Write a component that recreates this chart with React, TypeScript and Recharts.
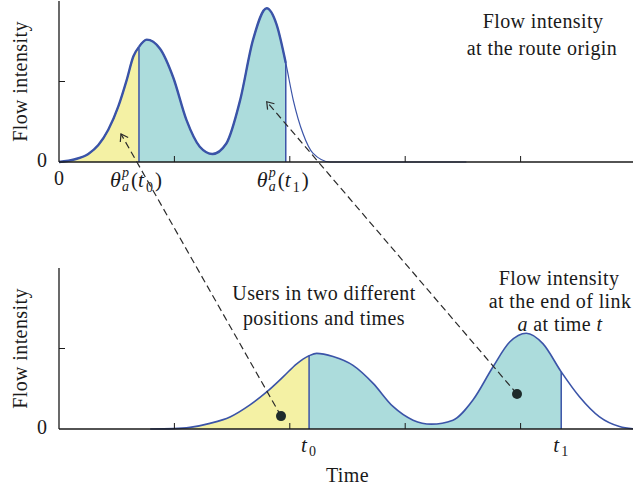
import React from 'react';
import { ComposedChart, Area, Line, XAxis, YAxis, ReferenceLine, ReferenceDot } from 'recharts';

const FONT = '"Liberation Serif", "Times New Roman", serif';
const BLUE = '#3b54a8';
const YELLOW = '#f4f1a4';
const TEAL = '#acdcdc';
const INK = '#1a1a1a';

// top panel: flow intensity at the route origin
const originTime = [0, 0.139, 0.254, 0.341, 0.427, 0.514, 0.587, 0.644, 0.693, 0.76, 0.874, 0.99, 1.105, 1.22, 1.33, 1.45, 1.57, 1.68, 1.8, 1.885, 1.965, 2.03, 2.115, 2.2, 2.35, 3.53];
const originFlow = [0, 0.034, 0.1, 0.21, 0.4, 0.69, 1.02, 1.31, 1.43, 1.52, 1.41, 1.05, 0.52, 0.19, 0.1, 0.23, 0.77, 1.51, 1.91, 1.71, 1.23, 0.77, 0.35, 0.11, 0, 0];
const originT0 = 0.693; // θ(t0)
const originT1 = 1.965; // θ(t1)

// bottom panel: flow intensity at the end of link a
const linkTime = [0.79, 0.99, 1.135, 1.308, 1.482, 1.655, 1.8, 1.944, 2.06, 2.167, 2.233, 2.375, 2.548, 2.72, 2.894, 3.068, 3.227, 3.414, 3.587, 3.76, 3.905, 4.05, 4.193, 4.352, 4.51, 4.684, 4.857, 5.0];
const linkFlow = [0, 0.005, 0.02, 0.07, 0.15, 0.3, 0.46, 0.65, 0.81, 0.91, 0.94, 0.9, 0.79, 0.57, 0.28, 0.11, 0.06, 0.11, 0.36, 0.77, 1.08, 1.19, 1.06, 0.71, 0.4, 0.15, 0.03, 0];
const linkT0 = 2.167;
const linkT1 = 4.352;

const gridTicks = [1, 2, 3, 4];
const flowTicks = [0, 1];

// the two users on the link and where they left the origin (bottom panel units)
const userTime = [1.924, 3.969];
const userFlow = [0.16, 0.435];
const departTime = [0.537, 1.8];
const departFlow = [3.665, 4.066];

const buildRows = (xs: number[], ys: number[], a: number, b: number) =>
  xs.map((x, i) => ({
    x,
    y: ys[i],
    yellow: x <= a ? ys[i] : null,
    teal: x >= a && x <= b ? ys[i] : null,
  }));

const originRows = buildRows(originTime, originFlow, originT0, originT1);
const linkRows = buildRows(linkTime, linkFlow, linkT0, linkT1);
const flowAt = (xs: number[], ys: number[], t: number) => ys[xs.indexOf(t)];

const Theta = ({ x, y, sub }: any) => {
  const l = x - 29;
  return (
    <g fontFamily={FONT} fill={INK}>
      <text x={l} y={y} fontSize={22} fontStyle="italic">θ</text>
      <text x={l + 12} y={y - 10} fontSize={14} fontStyle="italic">p</text>
      <text x={l + 12} y={y + 4} fontSize={14} fontStyle="italic">a</text>
      <text x={l + 21} y={y} fontSize={21}>(</text>
      <text x={l + 28} y={y} fontSize={21} fontStyle="italic">t</text>
      <text x={l + 36} y={y + 5} fontSize={14}>{sub}</text>
      <text x={l + 45} y={y} fontSize={21}>)</text>
    </g>
  );
};

const OriginTimeTick = ({ x, y, payload }: any) => {
  const v = payload.value;
  if (gridTicks.includes(v)) return <line x1={x} y1={y} x2={x} y2={y - 6} stroke={INK} />;
  if (v === 0)
    return <text x={x} y={y + 23} textAnchor="middle" fontFamily={FONT} fontSize={20} fill={INK}>0</text>;
  return <Theta x={x} y={y + 25} sub={v === originT0 ? '0' : '1'} />;
};

const LinkTimeTick = ({ x, y, payload }: any) => {
  const v = payload.value;
  if (gridTicks.includes(v)) return <line x1={x} y1={y} x2={x} y2={y - 6} stroke={INK} />;
  return (
    <g fontFamily={FONT} fill={INK}>
      <text x={x - 8} y={y + 23} fontSize={21} fontStyle="italic">t</text>
      <text x={x} y={y + 27} fontSize={14}>{v === linkT0 ? '0' : '1'}</text>
    </g>
  );
};

const TopTick = ({ x, y, payload }: any) =>
  gridTicks.includes(payload.value) ? <line x1={x} y1={y} x2={x} y2={y + 6} stroke={INK} /> : <g />;

const LeftTick = ({ x, y, payload }: any) =>
  payload.value === 0 ? (
    <text x={x - 12} y={y + 5} textAnchor="end" fontFamily={FONT} fontSize={20} fill={INK}>0</text>
  ) : (
    <line x1={x} y1={y} x2={x + 6} y2={y} stroke={INK} />
  );

const RightTick = ({ x, y, payload }: any) =>
  payload.value === 0 ? <g /> : <line x1={x} y1={y} x2={x - 6} y2={y} stroke={INK} />;

const Arrow = ({ x1, y1, x2, y2 }: any) => {
  const ang = Math.atan2(y1 - y2, x1 - x2);
  const len = 8;
  const spread = 0.6;
  return (
    <g stroke="#2a2a2a" strokeWidth={1.2} fill="none">
      <line x1={x1} y1={y1} x2={x2} y2={y2} strokeDasharray="7 4" />
      <polyline
        points={`${x2 + len * Math.cos(ang - spread)},${y2 + len * Math.sin(ang - spread)} ${x2},${y2} ${x2 + len * Math.cos(ang + spread)},${y2 + len * Math.sin(ang + spread)}`}
      />
    </g>
  );
};

const axisLabel = {
  value: 'Flow intensity',
  angle: -90,
  position: 'insideLeft',
  offset: 20,
  style: { textAnchor: 'middle', fontFamily: FONT, fontSize: 20, fill: INK, letterSpacing: 0.4 },
};

const Frame = ({ showBottom }: { showBottom: 'origin' | 'link' }) => [
  <XAxis
    key="xb"
    xAxisId={0}
    type="number"
    dataKey="x"
    domain={[0, 5]}
    ticks={showBottom === 'origin' ? [0, ...gridTicks, originT0, originT1] : [...gridTicks, linkT0, linkT1]}
    interval={0}
    tickSize={0}
    tickMargin={0}
    tickLine={false}
    axisLine={{ stroke: INK, strokeWidth: 1.3 }}
    tick={showBottom === 'origin' ? OriginTimeTick : LinkTimeTick}
    height={showBottom === 'origin' ? 38 : 63}
    label={
      showBottom === 'link'
        ? { value: 'Time', position: 'insideBottom', offset: 10, style: { fontFamily: FONT, fontSize: 20, fill: INK, letterSpacing: 0.4 } }
        : undefined
    }
  />,
  <XAxis
    key="xt"
    xAxisId="top"
    orientation="top"
    type="number"
    dataKey="x"
    domain={[0, 5]}
    ticks={gridTicks}
    interval={0}
    tickSize={0}
    tickMargin={0}
    tickLine={false}
    axisLine={{ stroke: showBottom === 'origin' ? '#444' : INK, strokeWidth: showBottom === 'origin' ? 2.2 : 1.3 }}
    tick={TopTick}
    height={0}
  />,
  <YAxis
    key="yl"
    yAxisId={0}
    type="number"
    domain={[0, 2]}
    ticks={flowTicks}
    interval={0}
    tickSize={0}
    tickMargin={0}
    tickLine={false}
    axisLine={{ stroke: INK, strokeWidth: 1.3 }}
    tick={LeftTick}
    width={59}
    label={axisLabel}
  />,
  <YAxis
    key="yr"
    yAxisId="right"
    orientation="right"
    type="number"
    domain={[0, 2]}
    ticks={flowTicks}
    interval={0}
    tickSize={0}
    tickMargin={0}
    tickLine={false}
    axisLine={{ stroke: INK, strokeWidth: 1.3 }}
    tick={RightTick}
    width={0}
  />,
];

const OriginChart = () => (
  <ComposedChart width={640} height={200} data={originRows} margin={{ top: 1, right: 4, bottom: 0, left: 0 }}>
    {Frame({ showBottom: 'origin' })}
    <Area dataKey="yellow" type="monotone" fill={YELLOW} fillOpacity={1} stroke={BLUE} strokeWidth={2.4} isAnimationActive={false} />
    <Area dataKey="teal" type="monotone" fill={TEAL} fillOpacity={1} stroke={BLUE} strokeWidth={2.4} isAnimationActive={false} />
    <Line dataKey="y" type="monotone" stroke={BLUE} strokeWidth={1.2} dot={false} isAnimationActive={false} />
    <Line dataKey="y" xAxisId="top" yAxisId="right" stroke="none" dot={false} activeDot={false} isAnimationActive={false} />
    {[originT0, originT1].map((t) => (
      <ReferenceLine
        key={t}
        segment={[{ x: t, y: 0 }, { x: t, y: flowAt(originTime, originFlow, t) }]}
        stroke={BLUE}
        strokeWidth={1.5}
      />
    ))}
  </ComposedChart>
);

const LinkChart = () => (
  <ComposedChart width={640} height={492} data={linkRows} margin={{ top: 268, right: 4, bottom: 0, left: 0 }}>
    {Frame({ showBottom: 'link' })}
    <Area dataKey="yellow" type="monotone" fill={YELLOW} fillOpacity={1} stroke="none" isAnimationActive={false} />
    <Area dataKey="teal" type="monotone" fill={TEAL} fillOpacity={1} stroke="none" isAnimationActive={false} />
    <Line dataKey="y" type="monotone" stroke={BLUE} strokeWidth={1.6} dot={false} isAnimationActive={false} />
    <Line dataKey="y" xAxisId="top" yAxisId="right" stroke="none" dot={false} activeDot={false} isAnimationActive={false} />
    {[linkT0, linkT1].map((t) => (
      <ReferenceLine
        key={t}
        segment={[{ x: t, y: 0 }, { x: t, y: flowAt(linkTime, linkFlow, t) }]}
        stroke={BLUE}
        strokeWidth={1.5}
      />
    ))}
    {userTime.map((t, i) => (
      <ReferenceLine
        key={`arrow-${i}`}
        segment={[{ x: t, y: userFlow[i] }, { x: departTime[i], y: departFlow[i] }]}
        ifOverflow="visible"
        shape={Arrow}
      />
    ))}
    {userTime.map((t, i) => (
      <ReferenceDot key={`user-${i}`} x={t} y={userFlow[i]} r={5} fill="#1e2b2b" stroke="none" />
    ))}
  </ComposedChart>
);

const Note = ({ x, y, children }: any) => (
  <text x={x} y={y} textAnchor="middle" fontFamily={FONT} fontSize={20} fill={INK} letterSpacing={0.4}>
    {children}
  </text>
);

export default function App() {
  return (
    <div style={{ position: 'absolute', left: 0, top: 0, width: 633, height: 492, overflow: 'hidden', background: '#fff' }}>
      <div style={{ position: 'absolute', left: 0, top: 0 }}>
        <OriginChart />
      </div>
      <div style={{ position: 'absolute', left: 0, top: 0 }}>
        <LinkChart />
      </div>
      <svg width={633} height={492} style={{ position: 'absolute', left: 0, top: 0, pointerEvents: 'none' }}>
        <Note x={543} y={28}>Flow intensity</Note>
        <Note x={542} y={55}>at the route origin</Note>
        <Note x={324} y={300}>Users in two different</Note>
        <Note x={324} y={325}>positions and times</Note>
        <Note x={559} y={285}>Flow intensity</Note>
        <Note x={560} y={308}>at the end of link</Note>
        <Note x={560} y={331}>
          <tspan fontStyle="italic">a</tspan> at time <tspan fontStyle="italic">t</tspan>
        </Note>
      </svg>
    </div>
  );
}
